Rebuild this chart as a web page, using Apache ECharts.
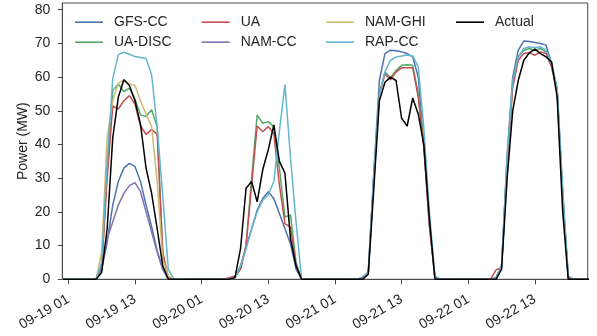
<!DOCTYPE html>
<html>
<head>
<meta charset="utf-8">
<script src="https://cdn.jsdelivr.net/npm/echarts@6/dist/echarts.min.js"></script>
<style>
html,body{margin:0;padding:0;background:#fff;}
#chart{width:597px;height:336px;}
</style>
</head>
<body>
<div id="chart"></div>
<script>
// hourly values, hour 0 = 09-19 00:00
const gfsCC = [
0,0,0,0,0,0,
0,3,11,22,29,33,34.4,33.5,29,22,15.6,8.5,3,0,
0,0,0,0,0,0,0,0,0,0,
0,0.5,4,9.5,15,20.5,24,26,24,19.5,15,10.5,3,0,
0,0,0,0,0,0,0,0,0,0,
0.5,2,32,59,67,68,67.8,67.5,67,66,60,40,16,0.5,
0,0,0,0,0,0,0,0,0,0,
0.5,4,37,60,68,70.7,70.6,70.3,70,69.5,64,56,25,0.5,
0,0,0,0];
const uaDisc = [
0,0,0,0,0,0,
0,4,32,56,58,55.7,56.7,53.5,48.8,48.3,50.3,45.3,8,0,
0,0,0,0,0,0,0,0,0,0,
0,0.5,3,10,30,48.8,46.3,46.8,45.3,33,18.5,19.1,5,0,
0,0,0,0,0,0,0,0,0,0,
0.5,2,30,55,61.5,59.8,62,63.5,63.7,63.5,55,40,17,0.5,
0,0,0,0,0,0,0,0,0,0,
0.5,4,35,58,66,68,68.5,68,68.5,67.5,63,56,25,0.5,
0,0,0,0];
const ua = [
0,0,0,0,0,0,
0,3,30,51.5,50.5,53,54.5,52,45.5,43,44.5,43,8,0.5,
0,0,0,0,0,0,0,0,0,0,
0.5,1,3,10,28,45.5,43.8,45.3,43.3,28,16.5,15.5,4,0,
0,0,0,0,0,0,0,0,0,0,
0.5,2,30,55,61,59.2,61.5,62.8,62.8,62.8,54,39,16,0.5,
0,0,0,0,0,0,0,0,0,0,
2.8,3.5,34,57,65,67,67.2,66.5,67.5,67,63,56,25,0.5,
0,0,0,0];
const namCC = [
0,0,0,0,0,0,
0,3,12,17,22,25.5,27.8,28.7,26,20,14,8,3,0,
0,0,0,0,
null,null,null,null,null,null,null,null,null,null,null,null,
null,null,null,null,null,null,null,null,null,null,null,null,
null,null,null,null,null,null,null,null,null,null,null,null,
null,null,null,null,null,null,null,null,null,null,null,null,
null,null,null,null,null,null,null,null,null,null,null,null,
null,null,null,null,null,null,null,null,null,null,null,null];
const namGHI = [
0,0,0,0,0,0,
0,8,42,53,58.2,59.2,58,57.5,53,49,45.3,29,6,1,0,
0,0,0,
null,null,null,null,null,null,null,null,null,null,null,null,
null,null,null,null,null,null,null,null,null,null,null,null,
null,null,null,null,null,null,null,null,null,null,null,null,
null,null,null,null,null,null,null,null,null,null,null,null,
null,null,null,null,null,null,null,null,null,null,null,null,
null,null,null,null,null,null,null,null,null,null,null,null];
const rapCC = [
0,0,0,0,0,0,
0,5,35,59.5,66.6,67.4,66.8,66.1,65.8,65.5,60.7,45,25,3,0,
0,0,0,0,0,0,0,0,0,
0,0.5,4,9,15,20,23.5,25,29,44,57.8,36,17,0,
0,0,0,0,0,0,0,0,0,0,
0.8,2,31,55,61.5,65,66,66.3,66.6,66.3,63,45,20,1,
0,0,0,0,0,0,0,0,0,0,
0.5,4,36,59,66,68.5,69,68.7,69,68,64,57,27,1,
0,0,0,0];
const actual = [
0,0,0,0,0,0,
0,2,15,42,54,59.2,57.5,53,46,33,25.5,15,4,0,
0,0,0,0,0,0,0,0,0,0,
0,0.5,9,27,29,23,32.5,38.5,45.8,35,31.5,12,4,0,
0,0,0,0,0,0,0,0,0,0,
0,1.5,27,53,58.5,60,59,47.8,45.5,53.8,49,40,18,0,
0,0,0,0,0,0,0,0,0,0,
0,3,30,50,59,65,67.2,68.3,67,66,64.5,54,20,0,
0,0,0,0];

const xTickHours = [1,13,25,37,49,61,73,85];
const xTickLabels = ['09-19 01','09-19 13','09-20 01','09-20 13','09-21 01','09-21 13','09-22 01','09-22 13'];
const yTicks = [0,10,20,30,40,50,60,70,80];

const seriesDefs = [
  {name:'GFS-CC', data:gfsCC, color:'#4C72B0'},
  {name:'UA-DISC', data:uaDisc, color:'#55A868'},
  {name:'UA', data:ua, color:'#C44E52'},
  {name:'NAM-CC', data:namCC, color:'#8172B2'},
  {name:'NAM-GHI', data:namGHI, color:'#CCB974'},
  {name:'RAP-CC', data:rapCC, color:'#64B5CD'},
  {name:'Actual', data:actual, color:'#000000'}
];
const legendPos = {
  'GFS-CC':[75,14.2], 'UA':[201.7,14.2], 'NAM-GHI':[326,14.2], 'Actual':[456,14.2],
  'UA-DISC':[75,34.2], 'NAM-CC':[201.7,34.2], 'RAP-CC':[326,34.2]
};
const FONT = '"Liberation Sans", Arial, sans-serif';
const TXT = '#262626';

const chart = echarts.init(document.getElementById('chart'));
chart.setOption({
  animation:false,
  backgroundColor:'#fff',
  grid:{left:62.3, right:9.3, top:3, bottom:56.7, show:true, borderColor:'#4a4a4a', borderWidth:1, containLabel:false},
  legend: Object.keys(legendPos).map(n => ({
    data:[n], left:legendPos[n][0], top:legendPos[n][1], padding:0,
    icon:'rect', itemWidth:28, itemHeight:1.6,
    textStyle:{fontSize:14, fontFamily:FONT, color:TXT, padding:[0,0,0,6], lineHeight:16}
  })),
  xAxis:{
    type:'value', min:-0.08, max:94.5,
    axisLine:{show:true, lineStyle:{color:'#4a4a4a', width:1}},
    axisTick:{show:true, length:5, lineStyle:{color:'#4a4a4a'}, customValues:xTickHours},
    axisLabel:{customValues:xTickHours, rotate:30, margin:19, fontSize:14, fontFamily:FONT, color:TXT,
      formatter:v => xTickLabels[xTickHours.indexOf(v)]},
    splitLine:{show:false}
  },
  yAxis:{
    type:'value', min:0, max:82,
    name:'Power (MW)', nameLocation:'middle', nameGap:32, nameMoveOverlap:false,
    nameTextStyle:{fontSize:14, fontFamily:FONT, color:TXT},
    axisLine:{show:true, lineStyle:{color:'#4a4a4a', width:1}},
    axisTick:{show:true, length:5, lineStyle:{color:'#4a4a4a'}, customValues:yTicks},
    axisLabel:{customValues:yTicks, margin:12, fontSize:14, fontFamily:FONT, color:TXT},
    splitLine:{show:false}
  },
  series: seriesDefs.map(s => ({
    name:s.name, type:'line', showSymbol:false, symbol:'none',
    data:s.data.map((v,i)=>[i,v]),
    lineStyle:{color:s.color, width:1.5},
    itemStyle:{color:s.color},
    connectNulls:false, clip:true
  }))
});
</script>
</body>
</html>
